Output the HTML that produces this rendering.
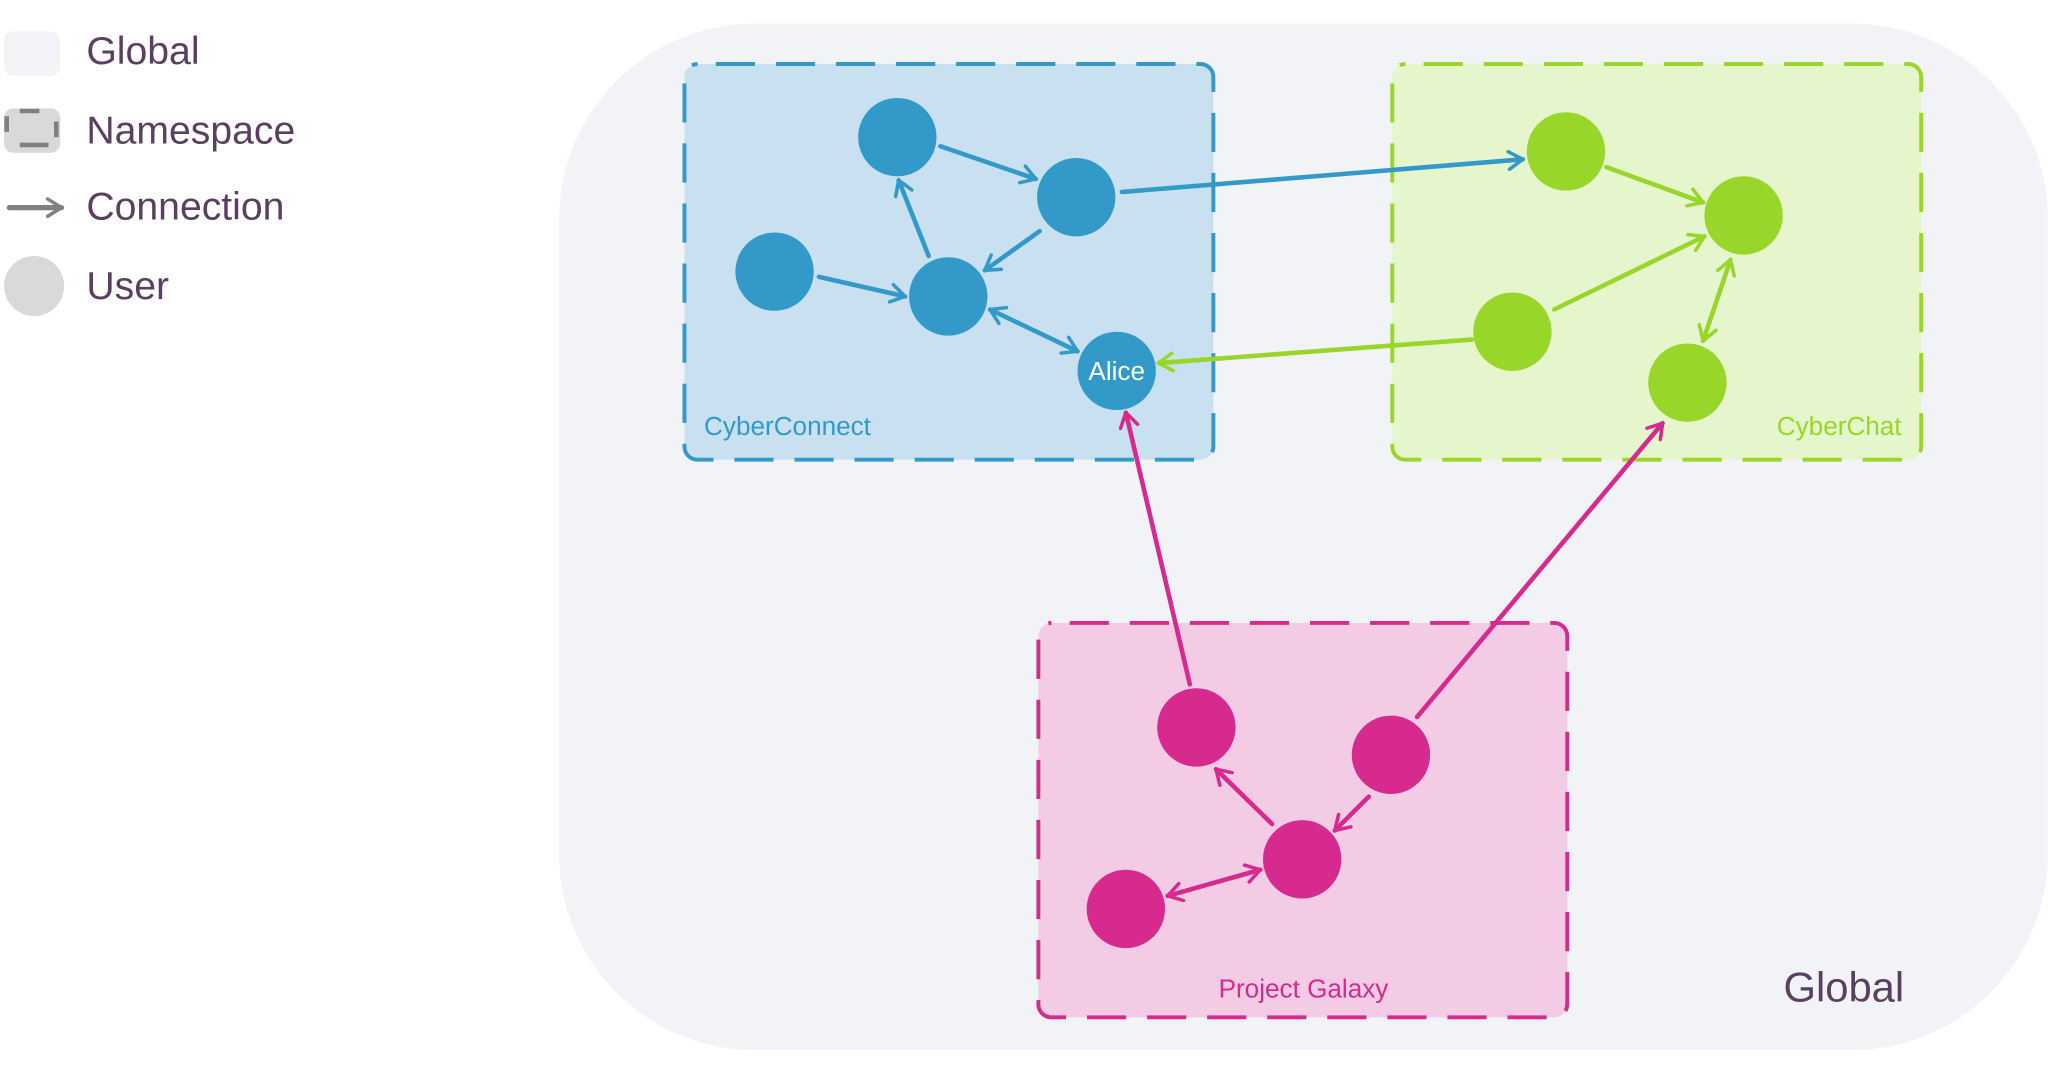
<!DOCTYPE html>
<html><head><meta charset="utf-8"><style>
html,body{margin:0;padding:0;background:#fff;width:2048px;height:1080px;overflow:hidden}
svg{display:block}
text{font-family:"Liberation Sans",sans-serif}
</style></head><body>
<svg width="2048" height="1080" viewBox="0 0 1568 827" xmlns="http://www.w3.org/2000/svg">
<defs>
<marker id="ab" viewBox="0 0 12 12" refX="10" refY="6" markerWidth="4.6" markerHeight="4.6" orient="auto-start-reverse" markerUnits="strokeWidth"><path d="M2,1 L10,6 L2,11" fill="none" stroke="#3399c9" stroke-width="2" stroke-linecap="round" stroke-linejoin="round"/></marker>
<marker id="ag" viewBox="0 0 12 12" refX="10" refY="6" markerWidth="4.6" markerHeight="4.6" orient="auto-start-reverse" markerUnits="strokeWidth"><path d="M2,1 L10,6 L2,11" fill="none" stroke="#99d62a" stroke-width="2" stroke-linecap="round" stroke-linejoin="round"/></marker>
<marker id="ap" viewBox="0 0 12 12" refX="10" refY="6" markerWidth="4.6" markerHeight="4.6" orient="auto-start-reverse" markerUnits="strokeWidth"><path d="M2,1 L10,6 L2,11" fill="none" stroke="#d62a8f" stroke-width="2" stroke-linecap="round" stroke-linejoin="round"/></marker>
<marker id="agr" viewBox="0 0 12 12" refX="10" refY="6" markerWidth="4" markerHeight="4" orient="auto" markerUnits="strokeWidth"><path d="M2,1 L10,6 L2,11" fill="none" stroke="#808080" stroke-width="2" stroke-linecap="round" stroke-linejoin="round"/></marker>
</defs>
<!-- legend -->
<rect x="3" y="24" width="43" height="34" rx="7" fill="#f2f3f7"/>
<text x="66" y="49" font-size="30" fill="#5a4060">Global</text>
<rect x="3" y="83" width="43" height="34" rx="7" fill="#d9d9d9"/>
<path d="M15,111 H37 M5,89 V101 M43,93 V105 M15,85 H30" stroke="#808080" stroke-width="3.5"/>
<text x="66" y="110" font-size="30" fill="#5a4060">Namespace</text>
<line x1="7" y1="159" x2="47" y2="159" stroke="#808080" stroke-width="4" stroke-linecap="round" marker-end="url(#agr)"/>
<text x="66" y="168" font-size="30" fill="#5a4060">Connection</text>
<circle cx="26" cy="219" r="23" fill="#d9d9d9"/>
<text x="66" y="229" font-size="30" fill="#5a4060">User</text>
<!-- global -->
<rect x="428" y="18" width="1140" height="786" rx="150" fill="#f2f3f7"/>
<text x="1458" y="767" font-size="32" text-anchor="end" fill="#5a4060">Global</text>
<!-- namespaces -->
<rect x="524" y="49" width="405" height="303" rx="10" fill="#c8e0ef" stroke="#3399c9" stroke-width="3" stroke-dasharray="30,16" stroke-dashoffset="-14"/>
<text x="539" y="333" font-size="20" fill="#3399c9">CyberConnect</text>
<rect x="1066" y="49" width="405" height="303" rx="10" fill="#e5f5cc" stroke="#99d62a" stroke-width="3" stroke-dasharray="30,16" stroke-dashoffset="-14"/>
<text x="1456" y="333" font-size="20" text-anchor="end" fill="#99d62a">CyberChat</text>
<rect x="795" y="477" width="405" height="302" rx="10" fill="#f4cbe4" stroke="#d62a8f" stroke-width="3" stroke-dasharray="30,16" stroke-dashoffset="-14"/>
<text x="998" y="764" font-size="20" text-anchor="middle" fill="#d62a8f">Project Galaxy</text>
<!-- edges -->
<g stroke-width="3.5" stroke-linecap="round" fill="none">
<g stroke="#3399c9">
<line x1="720" y1="112" x2="793" y2="137" marker-end="url(#ab)"/>
<line x1="711" y1="196" x2="688" y2="138" marker-end="url(#ab)"/>
<line x1="796" y1="177" x2="754" y2="207" marker-end="url(#ab)"/>
<line x1="627" y1="212" x2="693" y2="227" marker-end="url(#ab)"/>
<line x1="758" y1="237" x2="825" y2="269" marker-start="url(#ab)" marker-end="url(#ab)"/>
<line x1="859" y1="147" x2="1166" y2="122" marker-end="url(#ab)"/>
</g>
<g stroke="#99d62a">
<line x1="1230" y1="128" x2="1304" y2="155" marker-end="url(#ag)"/>
<line x1="1190" y1="237" x2="1305" y2="181" marker-end="url(#ag)"/>
<line x1="1127" y1="260" x2="887" y2="278" marker-end="url(#ag)"/>
<line x1="1325" y1="199" x2="1304" y2="261" marker-start="url(#ag)" marker-end="url(#ag)"/>
</g>
<g stroke="#d62a8f">
<line x1="911" y1="524" x2="862" y2="316" marker-end="url(#ap)"/>
<line x1="1085" y1="549" x2="1273" y2="324" marker-end="url(#ap)"/>
<line x1="974" y1="631" x2="931" y2="589" marker-end="url(#ap)"/>
<line x1="1048" y1="610" x2="1022" y2="636" marker-end="url(#ap)"/>
<line x1="965" y1="666" x2="894" y2="686" marker-start="url(#ap)" marker-end="url(#ap)"/>
</g>
</g>
<!-- nodes -->
<g fill="#3399c9">
<circle cx="687" cy="105" r="30"/><circle cx="824" cy="151" r="30"/><circle cx="593" cy="208" r="30"/><circle cx="726" cy="227" r="30"/><circle cx="855" cy="284" r="30"/>
</g>
<text x="855" y="291" font-size="20" text-anchor="middle" fill="#fff">Alice</text>
<g fill="#99d62a">
<circle cx="1199" cy="116" r="30"/><circle cx="1335" cy="165" r="30"/><circle cx="1158" cy="254" r="30"/><circle cx="1292" cy="293" r="30"/>
</g>
<g fill="#d62a8f">
<circle cx="916" cy="557" r="30"/><circle cx="1065" cy="578" r="30"/><circle cx="997" cy="658" r="30"/><circle cx="862" cy="696" r="30"/>
</g>
</svg>
</body></html>
